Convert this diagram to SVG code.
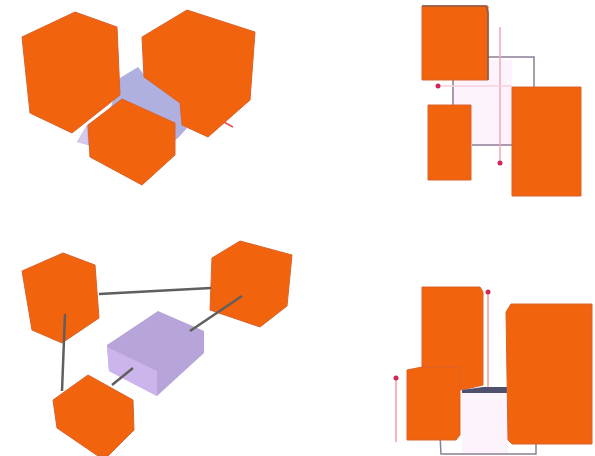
<svg xmlns="http://www.w3.org/2000/svg" width="595" height="456" viewBox="0 0 595 456">
<!-- The cropped text line at the top edge of the reference is unreadable (descenders only), so it is not reproduced. -->
<defs><filter id="soft" x="-2%" y="-2%" width="104%" height="104%"><feGaussianBlur stdDeviation="0.6"/></filter></defs>
<style>
.o{fill:#f26310;stroke:#d9622a;stroke-width:1;stroke-linejoin:round}
.c{fill:none;stroke:#5f5f5f;stroke-width:2.5}
.g{fill:none;stroke:#8c7f95;stroke-width:1.5}
.p{fill:none;stroke:#f4a6b4;stroke-width:1.5}
.h{fill:none;stroke:#f8d0de;stroke-width:1.5}
.r{fill:none;stroke:#f0a090;stroke-width:1.5}
.d{fill:#d0285a}
</style>
<g filter="url(#soft)">
<g id="top-left">
<polygon points="120,78 138,67 146,77 180,103 182,125 187,128 178,138 172,142 172,150 100,150 88,145 77,142 87,125 110,110" fill="#afafe0"/>
<polygon points="77,142 87,125 88,145" fill="#d8c8ec"/>
<line x1="222" y1="121" x2="233" y2="127" stroke="#d8504a" stroke-width="1.5"/>
<polygon class="o" points="75,12 117,27 120,95 72,133 30,113 22,37"/>
<polygon class="o" points="187,10 255,32 250,100 208,137 182,125 180,103 144,77 142,37"/>
<polygon class="o" points="122,99 175,123 175,155 142,185 90,157 88,125"/>
</g>
<g id="top-right">
<rect x="453" y="60" width="59" height="85" fill="#fdf3fd"/>
<path class="g" d="M488 57H534V88M453 80V105M472 145H512"/>
<path class="p" d="M500 27V163"/>
<path class="h" d="M438 86H512"/>
<circle class="d" cx="438" cy="86" r="2.5"/>
<circle class="d" cx="500" cy="163" r="2.5"/>
<rect class="o" x="422" y="6" width="66" height="74"/>
<path d="M422 6H486L488 12V80" fill="none" stroke="#8a5a48" stroke-width="1.5"/>
<rect class="o" x="428" y="105" width="43" height="75"/>
<rect class="o" x="512" y="87" width="69" height="109"/>
</g>
<g id="bottom-left">
<g id="hub-box">
<polygon points="158,311 204,331 204,353 157,396 109,371 107,345" fill="#b7a4d8"/>
<polygon points="107,347 157,371 157,396 109,371" fill="#cbb5ec"/>
</g>
<polygon id="cube-a" class="o" points="63,253 95,265 99,318 62,343 32,330 22,271"/>
<polygon id="cube-b" class="o" points="240,241 292,255 287,306 260,327 210,310 212,258"/>
<polygon id="cube-c" class="o" points="88,375 133,400 134,430 108,456 98,456 57,428 53,400"/>
</g>
<g id="bottom-right">
<rect x="462" y="393" width="46" height="60" fill="#fdf3fd"/>
<path class="g" d="M440 435L441 454H536V443"/>
<path class="r" d="M488 292V387M396 378V442"/>
<circle class="d" cx="488" cy="292" r="2.5"/>
<circle class="d" cx="396" cy="378" r="2.5"/>
<polygon class="o" points="422,287 480,287 483,292 483,385 462,390 422,375"/>
<polygon points="462,390 483,387 507,387 507,393 462,393" fill="#50506e"/>
<polygon class="o" points="407,370 422,367 460,367 460,435 456,440 407,440"/>
<polygon class="o" points="511,304 592,304 592,444 512,444 508,440 506,312"/>
</g>
<g id="connectors">
<path class="c" d="M99 294L211 288M65 314L62 391M242 296L190 331M133 368L112 385"/>
</g>
</g>
</svg>
